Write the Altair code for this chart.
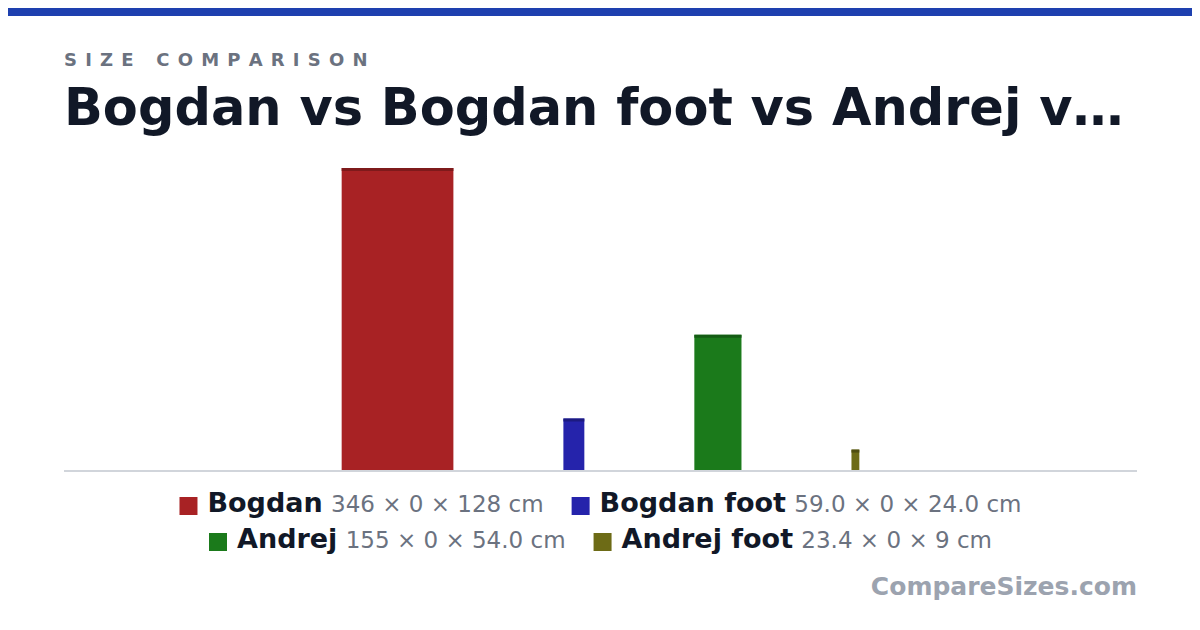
import altair as alt
import pandas as pd

# ---------------- data ----------------
names = ["Bogdan", "Bogdan foot", "Andrej", "Andrej foot"]
heights = [346, 59.0, 155, 23.4]
depths = [0, 0, 0, 0]
widths = [128, 24.0, 54.0, 9]
labels = ["346 × 0 × 128 cm", "59.0 × 0 × 24.0 cm", "155 × 0 × 54.0 cm", "23.4 × 0 × 9 cm"]
colors = ["#a82224", "#2523ab", "#1b7a1b", "#6d6b16"]
cap_colors = ["#7e1a1b", "#1c1a80", "#145c14", "#4f4e10"]

kicker = "SIZE COMPARISON"
title = "Bogdan vs Bogdan foot vs Andrej v…"
watermark = "CompareSizes.com"

# ---------------- layout (chart px; page = chart + 8) ----------------
W, H = 1184, 614
PLOT_LEFT, PLOT_RIGHT = 56, 1129
PLOT_TOP, BASE = 160, 462
CX = (PLOT_LEFT + PLOT_RIGHT) / 2
GAP_PX = 110
CAP_PX = 3
FONT = "DejaVu Sans"

s = (BASE - PLOT_TOP) / max(heights)  # px per cm
gap_cm = GAP_PX / s
total = sum(widths) + gap_cm * (len(widths) - 1)
x0s, x1s = [], []
cur = -total / 2
for w in widths:
    x0s.append(cur)
    x1s.append(cur + w)
    cur += w + gap_cm

bars = pd.DataFrame({
    "name": names, "h": heights, "x0": x0s, "x1": x1s,
    "zero": [0] * len(names), "color": colors, "cap": cap_colors,
    "caplow": [h - CAP_PX / s for h in heights],
})

xscale = alt.Scale(domain=[-CX / s, (W - CX) / s], nice=False, zero=False)
yscale = alt.Scale(domain=[-(H - BASE) / s, BASE / s], nice=False, zero=False)

bar_layer = alt.Chart(bars).mark_rect().encode(
    x=alt.X("x0:Q", scale=xscale, axis=None),
    x2="x1:Q",
    y=alt.Y("zero:Q", scale=yscale, axis=None),
    y2="h:Q",
    color=alt.Color("color:N", scale=None, legend=None),
)
cap_layer = alt.Chart(bars).mark_rect().encode(
    x=alt.X("x0:Q", scale=xscale, axis=None),
    x2="x1:Q",
    y=alt.Y("caplow:Q", scale=yscale, axis=None),
    y2="h:Q",
    color=alt.Color("cap:N", scale=None, legend=None),
)

one = pd.DataFrame({"a": [0]})
baseline = alt.Chart(one).mark_rule(color="#d1d5db", strokeWidth=2).encode(
    x=alt.value(PLOT_LEFT), x2=alt.value(PLOT_RIGHT), y=alt.value(BASE + 1)
)
topbar = alt.Chart(one).mark_rect(color="#1e40af").encode(
    x=alt.value(0), x2=alt.value(W), y=alt.value(0), y2=alt.value(8)
)

# ---------------- text metrics (DejaVu Sans, units / 2048) ----------------
BOLD = {"B": 1562, "o": 1407, "g": 1466, "d": 1466, "a": 1382, "n": 1458, " ": 713,
        "f": 891, "t": 979, "A": 1585, "r": 1010, "e": 1389, "j": 702,
        "S": 1474, "I": 762, "Z": 1485, "E": 1399, "C": 1501, "O": 1741, "M": 2038,
        "P": 1501, "R": 1577, "N": 1714}
REG = {"0": 1303, "1": 1303, "2": 1303, "3": 1303, "4": 1303, "5": 1303, "6": 1303,
       "7": 1303, "8": 1303, "9": 1303, " ": 651, "×": 1716, ".": 651, "c": 1126, "m": 1995}


def tw(text, table, fs):
    return sum(table.get(c, 1300) for c in text) / 2048 * fs


# kicker with letter spacing
K_FS, K_LS = 18, 8.2
kx, cur = [], PLOT_LEFT
for ch in kicker:
    kx.append(cur)
    cur += tw(ch, BOLD, K_FS) + K_LS
kdf = pd.DataFrame({"ch": list(kicker), "x": kx, "y": [57.5] * len(kicker)})
kicker_layer = alt.Chart(kdf).mark_text(
    font=FONT, fontSize=K_FS, fontWeight="bold", color="#6b7280",
    align="left", baseline="alphabetic"
).encode(x=alt.X("x:Q", scale=None), y=alt.Y("y:Q", scale=None), text="ch:N")

title_layer = alt.Chart(one).mark_text(
    text=title, font=FONT, fontSize=51, fontWeight="bold", color="#111827",
    align="left", baseline="alphabetic"
).encode(x=alt.value(PLOT_LEFT), y=alt.value(117))

wm_layer = alt.Chart(one).mark_text(
    text=watermark, font=FONT, fontSize=25, fontWeight="bold", color="#9ca3af",
    align="right", baseline="alphabetic"
).encode(x=alt.value(PLOT_RIGHT), y=alt.value(587))

# legend layout
NAME_FS, VAL_FS = 27, 23
SQ, SQ_GAP, ITEM_GAP = 18, 10, 28
rows = [[0, 1], [2, 3]]
row_cy = [498, 534]
sq_rows, name_rows, val_rows = [], [], []
for r, idxs in enumerate(rows):
    iw = [SQ + SQ_GAP + tw(names[i], BOLD, NAME_FS) + tw(" ", REG, VAL_FS) + 1
          + tw(labels[i], REG, VAL_FS) for i in idxs]
    roww = sum(iw) + ITEM_GAP * (len(idxs) - 1)
    xx = CX - roww / 2
    cy = row_cy[r]
    for i, w in zip(idxs, iw):
        sq_rows.append({"x0": xx, "x1": xx + SQ, "y0": cy - SQ / 2, "y1": cy + SQ / 2,
                        "color": colors[i]})
        nx = xx + SQ + SQ_GAP
        name_rows.append({"x": nx, "y": cy + 6, "t": names[i]})
        vx = nx + tw(names[i], BOLD, NAME_FS) + tw(" ", REG, VAL_FS) + 1
        val_rows.append({"x": vx, "y": cy + 6, "t": labels[i]})
        xx += w + ITEM_GAP

sq_layer = alt.Chart(pd.DataFrame(sq_rows)).mark_rect().encode(
    x=alt.X("x0:Q", scale=None), x2="x1:Q",
    y=alt.Y("y0:Q", scale=None), y2="y1:Q",
    color=alt.Color("color:N", scale=None, legend=None),
)
name_layer = alt.Chart(pd.DataFrame(name_rows)).mark_text(
    font=FONT, fontSize=NAME_FS, fontWeight="bold", color="#111827",
    align="left", baseline="alphabetic"
).encode(x=alt.X("x:Q", scale=None), y=alt.Y("y:Q", scale=None), text="t:N")
val_layer = alt.Chart(pd.DataFrame(val_rows)).mark_text(
    font=FONT, fontSize=VAL_FS, color="#6b7280",
    align="left", baseline="alphabetic"
).encode(x=alt.X("x:Q", scale=None), y=alt.Y("y:Q", scale=None), text="t:N")

chart = alt.layer(
    topbar, bar_layer, cap_layer, baseline, kicker_layer, title_layer,
    sq_layer, name_layer, val_layer, wm_layer
).resolve_scale(x="independent", y="independent").properties(
    width=W, height=H, autosize=alt.AutoSizeParams(type="none"), padding=0,
    background="white"
).configure_view(stroke=None)

chart.save("out.html", embed_options={"renderer": "svg", "actions": False})
